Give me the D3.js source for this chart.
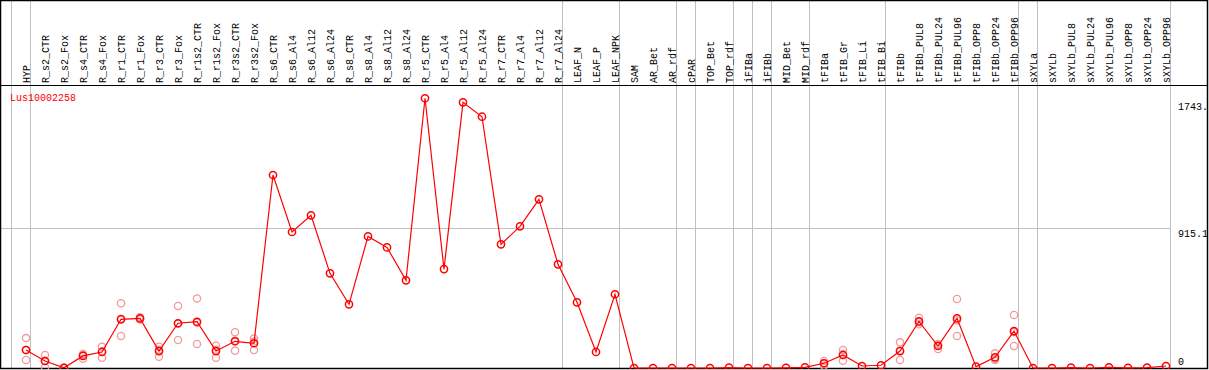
<!DOCTYPE html>
<html>
<head>
<meta charset="utf-8">
<script src="https://cdn.jsdelivr.net/npm/d3@7"></script>
<style>
  body { margin: 0; background: #fff; }
  svg { display: block; }
</style>
</head>
<body>
<script>
const geneName = "Lus10002258";

const samples = [
  "HYP", "R_s2_CTR", "R_s2_Fox", "R_s4_CTR", "R_s4_Fox", "R_r1_CTR", "R_r1_Fox",
  "R_r3_CTR", "R_r3_Fox", "R_r1s2_CTR", "R_r1s2_Fox", "R_r3s2_CTR", "R_r3s2_Fox",
  "R_s6_CTR", "R_s6_Al4", "R_s6_Al12", "R_s6_Al24", "R_s8_CTR", "R_s8_Al4",
  "R_s8_Al12", "R_s8_Al24", "R_r5_CTR", "R_r5_Al4", "R_r5_Al12", "R_r5_Al24",
  "R_r7_CTR", "R_r7_Al4", "R_r7_Al12", "R_r7_Al24", "LEAF_N", "LEAF_P", "LEAF_NPK",
  "SAM", "AR_Bet", "AR_rdf", "cPAR", "TOP_Bet", "TOP_rdf", "iFIBa", "iFIBb",
  "MID_Bet", "MID_rdf", "tFIBa", "tFIB_Gr", "tFIB_Li", "tFIB_Bi", "tFIBb",
  "tFIBb_PUL8", "tFIBb_PUL24", "tFIBb_PUL96", "tFIBb_OPP8", "tFIBb_OPP24",
  "tFIBb_OPP96", "sXYLa", "sXYLb", "sXYLb_PUL8", "sXYLb_PUL24", "sXYLb_PUL96",
  "sXYLb_OPP8", "sXYLb_OPP24", "sXYLb_OPP96",
];

// mean expression per sample
const means = [
  118, 46, 1, 79, 105, 319, 325, 111, 293, 303, 111, 175, 162,
  1264, 891, 1000, 620, 417, 862, 790, 574, 1767, 648, 1740, 1646,
  810, 928, 1105, 679, 430, 105, 483,
  0, 0, 0, 0, 0, 3, 0, 0, 1, 4, 31, 85, 13, 18, 111,
  305, 144, 325, 9, 70, 242, 0, 0, 2, 0, 4, 1, 2, 13,
];

// replicate values (only where they show apart from the mean)
const replicates = {
  HYP: [196, 118, 52],
  R_s2_CTR: [85, 48, 5],
  R_s2_Fox: [2, 0, 1],
  R_s4_CTR: [92, 84, 61],
  R_s4_Fox: [140, 108, 67],
  R_r1_CTR: [424, 323, 210],
  R_r1_Fox: [332, 325, 318],
  R_r3_CTR: [140, 120, 74],
  R_r3_Fox: [406, 290, 183],
  R_r1s2_CTR: [456, 296, 157],
  R_r1s2_Fox: [146, 120, 67],
  R_r3s2_CTR: [234, 178, 113],
  R_r3s2_Fox: [194, 174, 118],
  tFIBa: [46, 31, 15],
  tFIB_Gr: [118, 92, 48],
  tFIBb: [168, 113, 52],
  tFIBb_PUL8: [329, 300, 286],
  tFIBb_PUL24: [157, 151, 124],
  tFIBb_PUL96: [452, 313, 210],
  tFIBb_OPP24: [96, 61, 53],
  tFIBb_OPP96: [347, 235, 144],
};

// first sample of each tissue group (separator drawn before it)
const groupStarts = [
  "HYP", "R_s2_CTR", "LEAF_N", "SAM", "cPAR", "TOP_Bet", "iFIBa", "iFIBb",
  "MID_Bet", "tFIBa", "tFIBb", "sXYLa", "sXYLb",
];

const yTicks = [0, 915.1, 1743];
const yTickLabels = ["0", "915.1", "1743."];
const yGrid = [915.1];

const width = 1209;
const height = 370;
const plotTop = 85;
const plotBottom = 368;
const font = "'Liberation Mono', 'DejaVu Sans Mono', monospace";

const x = d3.scaleBand().domain(samples).range([11, 1170]).paddingInner(0);
const px = (d) => x(d) + 15;
const y = d3.scaleLinear().domain([0, 915.1]).range([plotBottom, 228.3]);

const svg = d3
  .select("body")
  .append("svg")
  .attr("width", width)
  .attr("height", height);

svg
  .append("defs")
  .append("clipPath")
  .attr("id", "plot-clip")
  .append("rect")
  .attr("x", 0)
  .attr("y", plotTop)
  .attr("width", 1207)
  .attr("height", plotBottom - plotTop + 1);

// group separators
svg
  .append("g")
  .selectAll("line")
  .data([...groupStarts.map((d) => x(d)), x.range()[1]])
  .enter()
  .append("line")
  .attr("x1", (d) => Math.floor(d) + 0.5)
  .attr("x2", (d) => Math.floor(d) + 0.5)
  .attr("y1", 0)
  .attr("y2", plotBottom)
  .attr("stroke", "#c0c0c0")
  .attr("stroke-width", 1);

// horizontal grid
svg
  .append("g")
  .selectAll("line")
  .data(yGrid)
  .enter()
  .append("line")
  .attr("x1", 0)
  .attr("x2", x.range()[1])
  .attr("y1", (d) => Math.round(y(d)) + 0.5)
  .attr("y2", (d) => Math.round(y(d)) + 0.5)
  .attr("stroke", "#c0c0c0")
  .attr("stroke-width", 1);

// frame + label baseline
svg
  .append("rect")
  .attr("x", 0.5)
  .attr("y", 0.5)
  .attr("width", 1207)
  .attr("height", plotBottom)
  .attr("fill", "none")
  .attr("stroke", "#000")
  .attr("stroke-width", 1.5);

svg
  .append("line")
  .attr("x1", 0)
  .attr("x2", 1207)
  .attr("y1", plotTop + 0.5)
  .attr("y2", plotTop + 0.5)
  .attr("stroke", "#000")
  .attr("stroke-width", 1);

// column labels
svg
  .append("g")
  .selectAll("text")
  .data(samples)
  .enter()
  .append("text")
  .attr("transform", (d) => `translate(${px(d) + 3.5} ${plotTop - 2}) rotate(-90)`)
  .text((d) => d)
  .attr("font-family", font)
  .attr("font-size", 10)
  .attr("fill", "#000");

// y tick labels
svg
  .append("g")
  .selectAll("text")
  .data(yTicks)
  .enter()
  .append("text")
  .attr("x", 1178)
  .attr("y", (d) => Math.min(y(d) + 8.5, 365))
  .text((_, i) => yTickLabels[i])
  .attr("font-family", font)
  .attr("font-size", 10)
  .attr("fill", "#000");

svg
  .append("text")
  .attr("x", 10)
  .attr("y", 101)
  .text(geneName)
  .attr("font-family", font)
  .attr("font-size", 10)
  .attr("fill", "#ff0000");

const plot = svg.append("g").attr("clip-path", "url(#plot-clip)");

const repPoints = samples.flatMap((s) =>
  (replicates[s] || []).map((v) => ({ s, v }))
);

plot
  .append("g")
  .selectAll("circle")
  .data(repPoints)
  .enter()
  .append("circle")
  .attr("cx", (d) => px(d.s))
  .attr("cy", (d) => y(d.v))
  .attr("r", 3.6)
  .attr("fill", "none")
  .attr("stroke", "#f09a9a")
  .attr("stroke-width", 1.3);

const line = d3
  .line()
  .x((_, i) => px(samples[i]))
  .y((d) => y(d));

plot
  .append("path")
  .datum(means)
  .attr("d", line)
  .attr("fill", "none")
  .attr("stroke", "#ff0000")
  .attr("stroke-width", 1.2);

plot
  .append("g")
  .selectAll("circle")
  .data(means)
  .enter()
  .append("circle")
  .attr("cx", (_, i) => px(samples[i]))
  .attr("cy", (d) => y(d))
  .attr("r", 3.6)
  .attr("fill", "none")
  .attr("stroke", "#ff0000")
  .attr("stroke-width", 1.5);
</script>
</body>
</html>
